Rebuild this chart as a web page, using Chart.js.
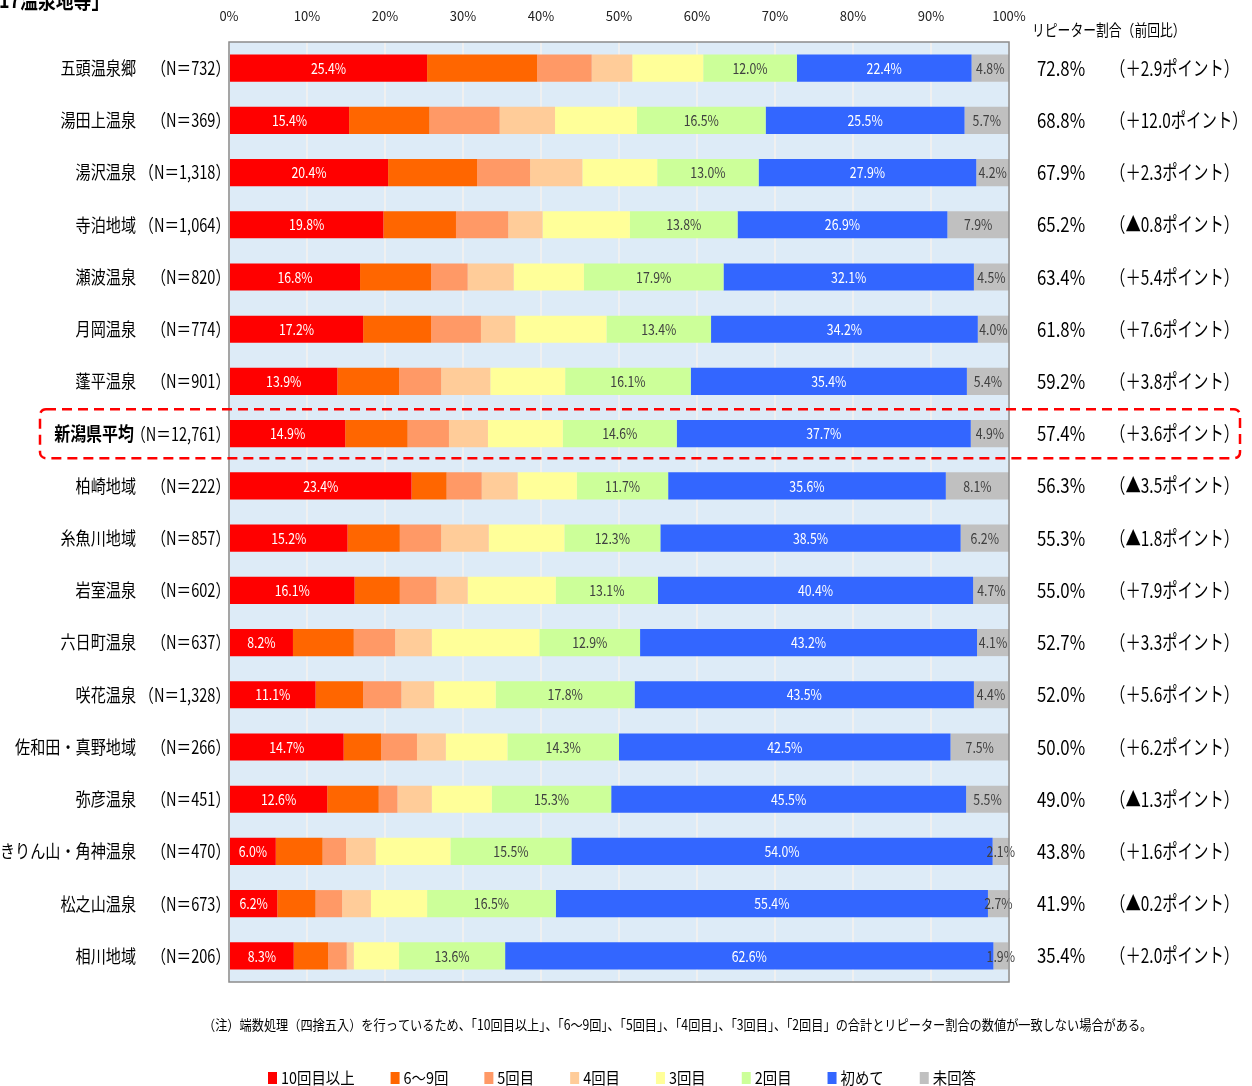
<!DOCTYPE html>
<html>
<head>
<meta charset="utf-8">
<script src="https://cdn.jsdelivr.net/npm/chart.js@4.4.0/dist/chart.umd.min.js"></script>
<style>
  html, body { margin: 0; padding: 0; background: #fff; overflow: hidden; }
  canvas { display: block; }
</style>
</head>
<body>
<canvas id="myChart" width="1252" height="1086"></canvas>
<script>
// 温泉地別 来訪回数の構成比（%）
const areas = ['五頭温泉郷', '湯田上温泉', '湯沢温泉', '寺泊地域', '瀬波温泉', '月岡温泉', '蓬平温泉', '新潟県平均',
  '柏崎地域', '糸魚川地域', '岩室温泉', '六日町温泉', '咲花温泉', '佐和田・真野地域', '弥彦温泉', 'きりん山・角神温泉',
  '松之山温泉', '相川地域'];
const sampleN = ['732', '369', '1,318', '1,064', '820', '774', '901', '12,761', '222', '857', '602', '637', '1,328',
  '266', '451', '470', '673', '206'];

const tenPlus   = [25.4, 15.4, 20.4, 19.8, 16.8, 17.2, 13.9, 14.9, 23.4, 15.2, 16.1, 8.2, 11.1, 14.7, 12.6, 6.0, 6.2, 8.3];
const sixToNine = [14.1, 10.3, 11.4, 9.3, 9.1, 8.7, 7.9, 8.0, 4.5, 6.7, 5.8, 7.8, 6.1, 4.8, 6.6, 6.0, 4.9, 4.4];
const fifth     = [7.0, 9.0, 6.8, 6.7, 4.7, 6.4, 5.4, 5.3, 4.5, 5.3, 4.7, 5.3, 4.9, 4.6, 2.4, 3.0, 3.4, 2.4];
const fourth    = [5.2, 7.1, 6.7, 4.4, 5.9, 4.4, 6.3, 5.0, 4.6, 6.1, 4.0, 4.7, 4.2, 3.7, 4.4, 3.8, 3.7, 0.9];
const third     = [9.1, 10.5, 9.6, 11.2, 9.0, 11.7, 9.6, 9.6, 7.6, 9.7, 11.3, 13.8, 7.9, 7.9, 7.7, 9.6, 7.2, 5.8];
const second    = [12.0, 16.5, 13.0, 13.8, 17.9, 13.4, 16.1, 14.6, 11.7, 12.3, 13.1, 12.9, 17.8, 14.3, 15.3, 15.5, 16.5, 13.6];
const firstTime = [22.4, 25.5, 27.9, 26.9, 32.1, 34.2, 35.4, 37.7, 35.6, 38.5, 40.4, 43.2, 43.5, 42.5, 45.5, 54.0, 55.4, 62.6];
const noAnswer  = [4.8, 5.7, 4.2, 7.9, 4.5, 4.0, 5.4, 4.9, 8.1, 6.2, 4.7, 4.1, 4.4, 7.5, 5.5, 2.1, 2.7, 1.9];

// リピーター割合と前回比（ポイント）
const repeatRate = [72.8, 68.8, 67.9, 65.2, 63.4, 61.8, 59.2, 57.4, 56.3, 55.3, 55.0, 52.7, 52.0, 50.0, 49.0, 43.8, 41.9, 35.4];
const pointDiff  = [2.9, 12.0, 2.3, -0.8, 5.4, 7.6, 3.8, 3.6, -3.5, -1.8, 7.9, 3.3, 5.6, 6.2, -1.3, 1.6, -0.2, 2.0];

const xTicks = [0, 10, 20, 30, 40, 50, 60, 70, 80, 90, 100];
const avgIndex = 7;

const FONT = '"Noto Sans CJK JP", "Noto Sans", sans-serif';

function drawText(ctx, s, x, y, o) {
  ctx.save();
  ctx.font = (o.bold ? 'bold ' : '') + o.size + 'px ' + FONT;
  ctx.fillStyle = o.color || '#000';
  ctx.textBaseline = 'middle';
  ctx.textAlign = o.align || 'left';
  ctx.translate(x, y);
  ctx.scale(o.sx || 0.82, 1);
  ctx.fillText(s, 0, 0);
  ctx.restore();
}
function textWidth(ctx, s, o) {
  ctx.save();
  ctx.font = (o.bold ? 'bold ' : '') + o.size + 'px ' + FONT;
  const w = ctx.measureText(s).width * (o.sx || 0.82);
  ctx.restore();
  return w;
}

const series = [
  { label: '10回目以上', data: tenPlus,   color: '#FF0000', text: '#FFFFFF' },
  { label: '6～9回',     data: sixToNine, color: '#FF6600' },
  { label: '5回目',      data: fifth,     color: '#FF9966' },
  { label: '4回目',      data: fourth,    color: '#FFCC99' },
  { label: '3回目',      data: third,     color: '#FFFF99' },
  { label: '2回目',      data: second,    color: '#CCFF99', text: '#404040' },
  { label: '初めて',     data: firstTime, color: '#3366FF', text: '#FFFFFF' },
  { label: '未回答',     data: noAnswer,  color: '#C0C0C0', text: '#404040' },
];

const plotBg = {
  id: 'plotBg',
  beforeDraw(chart) {
    const { ctx, chartArea: a } = chart;
    ctx.save();
    ctx.fillStyle = '#DDEBF7';
    ctx.fillRect(a.left, a.top, a.right - a.left, a.bottom - a.top);
    ctx.restore();
  }
};

const extras = {
  id: 'extras',
  afterDatasetsDraw(chart) {
    const { ctx, chartArea: a } = chart;
    const yScale = chart.scales.y;

    // 数値ラベル
    chart.data.datasets.forEach((ds, di) => {
      if (!series[di].text) return;
      chart.getDatasetMeta(di).data.forEach((bar, i) => {
        const cx = (bar.x + bar.base) / 2;
        drawText(ctx, ds.data[i].toFixed(1) + '%', cx, bar.y, { size: 15, sx: 0.82, color: series[di].text, align: 'center' });
      });
    });

    // 枠
    ctx.save();
    ctx.strokeStyle = '#8C8C8C';
    ctx.lineWidth = 1.5;
    ctx.strokeRect(a.left, a.top, a.right - a.left, a.bottom - a.top);
    ctx.restore();

    // 左側ラベル・右側の割合
    areas.forEach((name, i) => {
      const y = yScale.getPixelForValue(i);
      const isAvg = i === avgIndex;
      drawText(ctx, name, isAvg ? 134 : 136, y, { size: isAvg ? 19 : 18, bold: isAvg, sx: 0.84, align: 'right' });
      drawText(ctx, '（N＝' + sampleN[i] + '）', 230, y, { size: 18, sx: 0.81, align: 'right' });
      drawText(ctx, repeatRate[i].toFixed(1) + '%', 1037, y, { size: 20, sx: 0.84 });
      const d = pointDiff[i];
      const sign = d < 0 ? '▲' : '＋';
      drawText(ctx, '（' + sign + Math.abs(d).toFixed(1) + 'ポイント）', 1110, y, { size: 20, sx: 0.77 });
    });

    drawText(ctx, 'リピーター割合（前回比）', 1032, 30, { size: 16, sx: 0.8 });

    // 新潟県平均の破線枠
    const ya = yScale.getPixelForValue(avgIndex);
    ctx.save();
    ctx.strokeStyle = '#FF0000';
    ctx.lineWidth = 2.5;
    ctx.setLineDash([10, 6]);
    ctx.beginPath();
    ctx.roundRect(40, ya - 24.5, 1200, 49, 6);
    ctx.stroke();
    ctx.restore();

    // タイトル（上端で切れている）
    drawText(ctx, '17温泉地等」', -1, 0, { size: 21, bold: true, sx: 0.85 });

    // 注記
    drawText(ctx, '（注）端数処理（四捨五入）を行っているため、「10回目以上」、「6～9回」、「5回目」、「4回目」、「3回目」、「2回目」の合計とリピーター割合の数値が一致しない場合がある。',
      203, 1025, { size: 14, sx: 0.87 });

    // 凡例
    let lx = 268;
    const ly = 1078;
    series.forEach(s => {
      ctx.fillStyle = s.color;
      ctx.fillRect(lx, ly - 6, 9, 12);
      const o = { size: 16, sx: 0.9 };
      drawText(ctx, s.label, lx + 13, ly, o);
      lx += 13 + textWidth(ctx, s.label, o) + 36;
    });
  }
};

const ctx = document.getElementById('myChart');
new Chart(ctx, {
  type: 'bar',
  data: {
    labels: areas,
    datasets: series.map(s => ({
      label: s.label,
      data: s.data,
      backgroundColor: s.color,
      borderWidth: 0,
      categoryPercentage: 1,
      barPercentage: 0.52
    }))
  },
  options: {
    indexAxis: 'y',
    responsive: false,
    animation: false,
    devicePixelRatio: 1,
    layout: { padding: { left: 229, right: 243, top: 0, bottom: 104 } },
    plugins: { legend: { display: false }, tooltip: { enabled: false } },
    scales: {
      x: {
        position: 'top',
        stacked: true,
        min: 0,
        max: 100,
        afterFit(scale) { scale.height = 42; },
        afterBuildTicks(scale) { scale.ticks = xTicks.map(v => ({ value: v })); },
        ticks: {
          padding: 18,
          color: '#222',
          font: { size: 13, family: FONT },
          callback: v => v + '%'
        },
        grid: { color: '#F0F0F0', lineWidth: 2, drawTicks: false },
        border: { display: false }
      },
      y: {
        stacked: true,
        display: false
      }
    }
  },
  plugins: [plotBg, extras]
});
</script>
</body>
</html>
